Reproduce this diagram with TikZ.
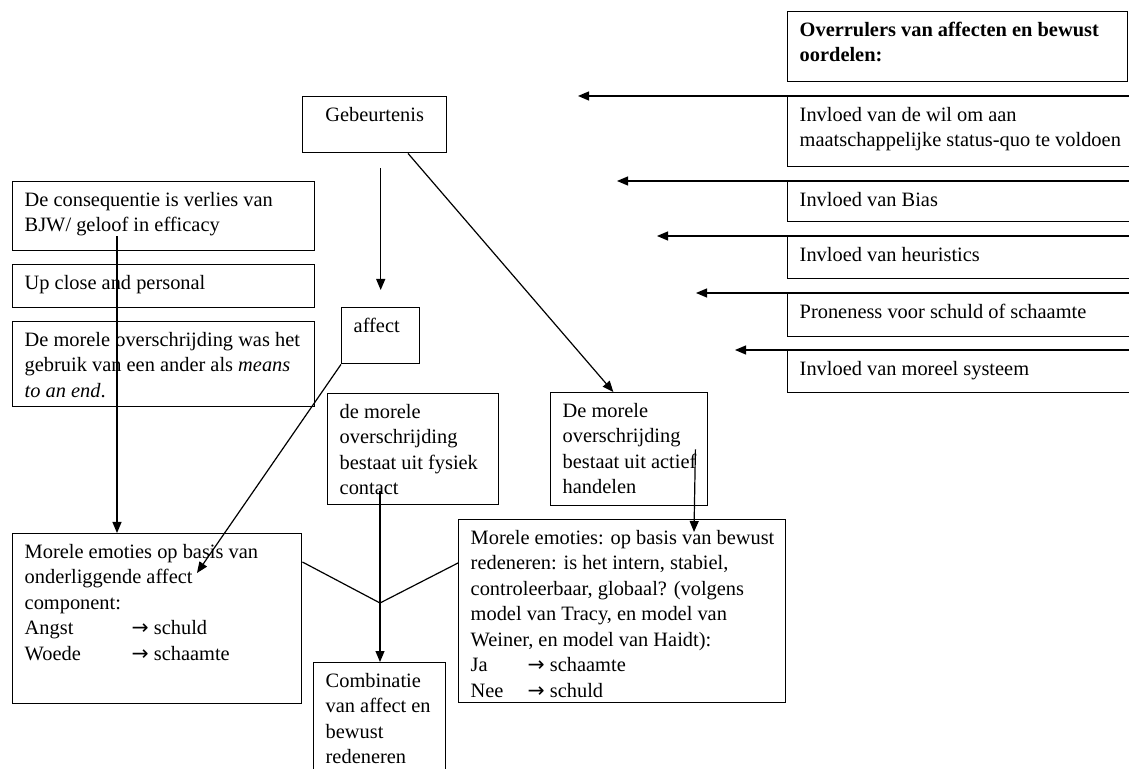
\documentclass[tikz,border=0pt]{standalone}
\usepackage{fontspec}
\setmainfont{Liberation Serif}
\newfontfamily\arrowfont{DejaVu Sans}
\usetikzlibrary{arrows.meta,calc}
\newlength\px
\setlength\px{0.5pt}
\newcommand\bodyfont{\fontsize{10.2pt}{12.75pt}\selectfont}
\newcommand\ra{{\arrowfont →}}
\newcommand\bt[3]{\begin{minipage}[t][#2\px][t]{#1\px}\leftskip=12\px\rightskip=0pt plus 1fil\parfillskip=0pt plus 1fil\hbadness=10000\hfuzz=100pt\rule{0pt}{24.6\px}#3\end{minipage}}
\newcommand\btc[3]{\begin{minipage}[t][#2\px][t]{#1\px}\centering\rule{0pt}{24.6\px}#3\end{minipage}}
\begin{document}
\begin{tikzpicture}[x=0.5pt,y=-0.5pt,
  box/.style={draw,line width=0.7pt,anchor=north west,inner sep=0pt,font=\bodyfont},
  conn/.style={line width=0.6pt},
  arr/.style={conn,-{Triangle[length=5.5pt,width=4.5pt]}}]
\useasboundingbox (0,0) rectangle (1129,769);
\clip (0,0) rectangle (1129,769);

% right column
\node[box] (over) at (787,11) {\bt{340}{70}{\textbf{Overrulers van affecten en bewust}\\\textbf{oordelen:}}};
\node[box] (wil) at (787,96) {\bt{353}{70}{Invloed van de wil om aan\\maatschappelijke status-quo te voldoen}};
\node[box] (bias) at (787,181) {\bt{353}{40}{Invloed van Bias}};
\node[box] (heur) at (787,236) {\bt{353}{42}{Invloed van heuristics}};
\node[box] (prone) at (787,293) {\bt{353}{43}{Proneness voor schuld of schaamte}};
\node[box] (moreel) at (787,350) {\bt{353}{42}{Invloed van moreel systeem}};

\coordinate (t1) at (578,96);
\coordinate (t2) at (617,181);
\coordinate (t3) at (657,236);
\coordinate (t4) at (696,293);
\coordinate (t5) at (735,350);
\draw[arr] (wil.north east) -- (t1);
\draw[arr] (bias.north east) -- (t2);
\draw[arr] (heur.north east) -- (t3);
\draw[arr] (prone.north east) -- (t4);
\draw[arr] (moreel.north east) -- (t5);

% centre
\node[box] (geb) at (302,96) {\btc{144}{56}{Gebeurtenis}};
\node[box] (aff) at (341,307) {\bt{78}{56}{affect}};
\node[box] (fys) at (327,393) {\bt{171}{111}{de morele\\overschrijding\\bestaat uit fysiek\\contact}};
\node[box] (act) at (550,392) {\bt{157}{113}{De morele\\overschrijding\\bestaat uit actief\\handelen}};
\node[box] (comb) at (313,662) {\bt{132}{130}{Combinatie\\van affect en\\bewust\\redeneren}};

% left column
\node[box] (cons) at (12,181) {\bt{302}{69}{De consequentie is verlies van\\BJW/ geloof in efficacy}};
\node[box] (upc) at (12,264) {\bt{302}{43}{Up close and personal}};
\node[box] (means) at (12,321) {\bt{302}{85}{De morele overschrijding was het\\gebruik van een ander als \emph{means}\\\emph{to an end}.}};
\node[box] (leftM) at (12,533) {\bt{289}{170}{Morele emoties op basis van\\onderliggende affect\\component:\\\makebox[107\px][l]{Angst}\ra{} schuld\\\makebox[107\px][l]{Woede}\ra{} schaamte}};
\node[box] (rightM) at (458,519) {\bt{327}{183}{Morele emoties: op basis van bewust\\redeneren: is het intern, stabiel,\\controleerbaar, globaal? (volgens\\model van Tracy, en model van\\Weiner, en model van Haidt):\\\makebox[57\px][l]{Ja}\ra{} schaamte\\\makebox[57\px][l]{Nee}\ra{} schuld}};

% connectors
\draw[arr] ($(geb.south)+(6,15)$) -- ($(aff.north)+(0,-17)$);
\draw[arr] ($(geb.south west)!0.729!(geb.south east)$) -- ($(act.north west)!0.4!(act.north east)$);
\draw[arr] ($(cons.south west)+(105,-15)$) -- ($(leftM.north west)+(105,0)$);
\draw[arr] (aff.south west) -- ($(leftM.north west)+(185,40)$);
\coordinate (fysl) at ($(fys.south west)+(53,-14)$);
\draw[arr] (fysl) -- (fysl |- comb.north);
\coordinate (v) at (380,603);
\draw[conn] ($(leftM.north east)+(0,29)$) -- (v) -- ($(rightM.north west)+(0,44)$);
\coordinate (acts) at ($(act.south east)+(-13,-57)$);
\draw[arr] (acts) -- ($(rightM.north west)+(236,13)$);
\end{tikzpicture}
\end{document}
